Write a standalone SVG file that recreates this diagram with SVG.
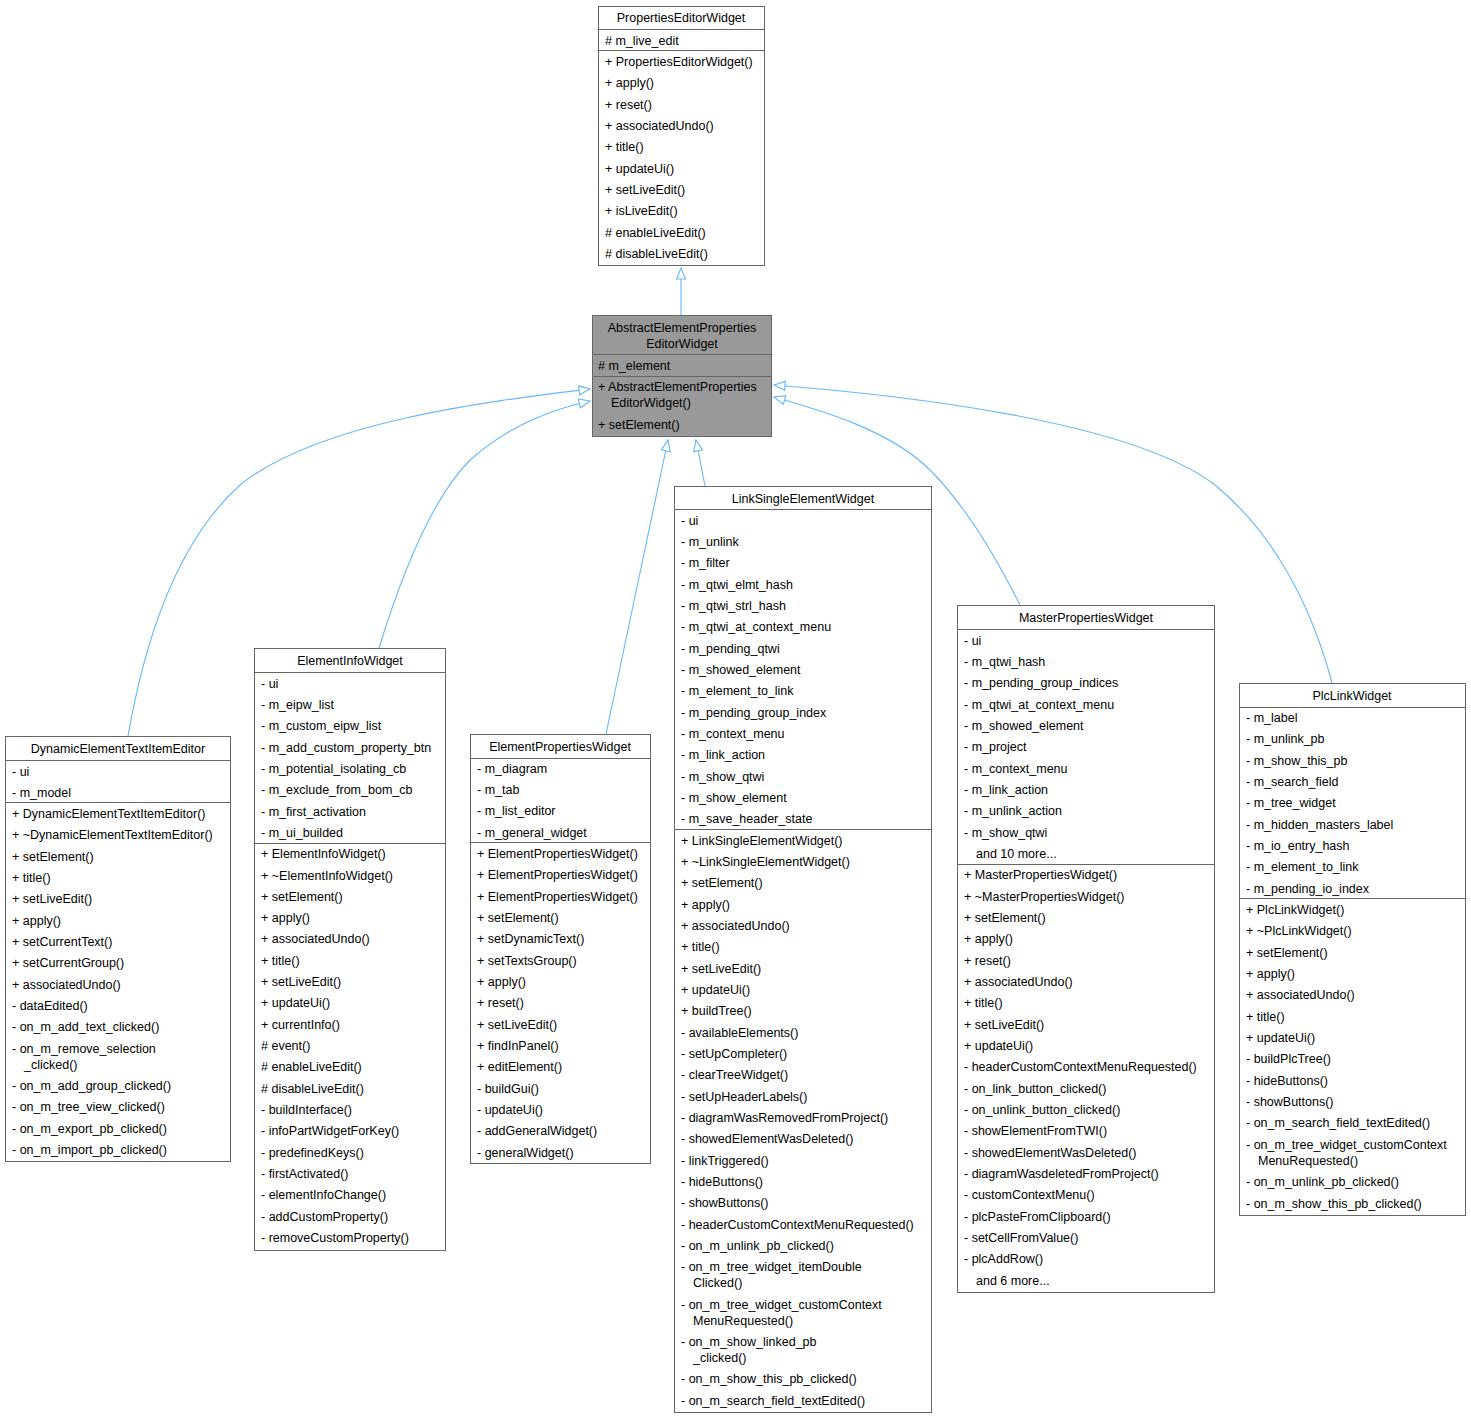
<svg xmlns="http://www.w3.org/2000/svg" width="1471" height="1419" viewBox="0 0 1471 1419">
<style>
text{font-family:"Liberation Sans",Arial,sans-serif;font-size:12.5px;fill:#000}
.c{text-anchor:middle}
rect{fill:#fff;stroke:#666;stroke-width:1}
.g rect{fill:#999}
line.d{stroke:#666;stroke-width:1}
.e path{fill:none;stroke:#63b8ff;stroke-width:1.1}
</style>
<defs>
<marker id="tri" markerWidth="14" markerHeight="12" refX="12" refY="5" orient="auto" markerUnits="userSpaceOnUse">
<path d="M1,0.5 L12,5 L1,9.5 Z" fill="#fff" stroke="#63b8ff" stroke-width="1.1"/>
</marker>
</defs>
<rect x="0" y="0" width="1471" height="1419" style="fill:#fff;stroke:none"/>
<g class="e" id="edges">
<path d="M681,315 L681,268" marker-end="url(#tri)"/>
<path d="M128,736 C150,610 190,530 240,485 C320,420 500,400 590,389" marker-end="url(#tri)"/>
<path d="M379,648 C400,580 430,500 470,460 C510,425 550,410 590,401" marker-end="url(#tri)"/>
<path d="M606,734 L668,440" marker-end="url(#tri)"/>
<path d="M705,486 L696,440" marker-end="url(#tri)"/>
<path d="M1020,605 C990,545 960,500 930,470 C890,430 820,410 774,397" marker-end="url(#tri)"/>
<path d="M1332,683 C1310,600 1270,530 1215,485 C1130,420 900,395 774,385" marker-end="url(#tri)"/>
</g>
<g id="PropertiesEditorWidget">
<rect x="598.5" y="6.5" width="166" height="259"/>
<line class="d" x1="598.5" y1="29.5" x2="764.5" y2="29.5"/>
<line class="d" x1="598.5" y1="50.5" x2="764.5" y2="50.5"/>
<text class="c" x="681" y="22">PropertiesEditorWidget</text>
<text x="605" y="45"># m_live_edit</text>
<text x="605" y="66">+  PropertiesEditorWidget()</text>
<text x="605" y="87">+  apply()</text>
<text x="605" y="109">+  reset()</text>
<text x="605" y="130">+  associatedUndo()</text>
<text x="605" y="151">+  title()</text>
<text x="605" y="173">+  updateUi()</text>
<text x="605" y="194">+  setLiveEdit()</text>
<text x="605" y="215">+  isLiveEdit()</text>
<text x="605" y="237"># enableLiveEdit()</text>
<text x="605" y="258"># disableLiveEdit()</text>
</g>
<g id="AbstractElementPropertiesEditorWidget" class="g">
<rect x="592.5" y="315.5" width="179" height="121"/>
<line class="d" x1="592.5" y1="354.5" x2="771.5" y2="354.5"/>
<line class="d" x1="592.5" y1="376.5" x2="771.5" y2="376.5"/>
<text class="c" x="682" y="332">AbstractElementProperties</text>
<text class="c" x="682" y="348">EditorWidget</text>
<text x="598" y="370"># m_element</text>
<text x="598" y="391">+ AbstractElementProperties</text>
<text x="611" y="407">EditorWidget()</text>
<text x="598" y="429">+ setElement()</text>
</g>
<g id="DynamicElementTextItemEditor">
<rect x="5.5" y="736.5" width="225" height="425"/>
<line class="d" x1="5.5" y1="760.5" x2="230.5" y2="760.5"/>
<line class="d" x1="5.5" y1="802.5" x2="230.5" y2="802.5"/>
<text class="c" x="118" y="753">DynamicElementTextItemEditor</text>
<text x="12" y="776">-  ui</text>
<text x="12" y="797">-  m_model</text>
<text x="12" y="818">+ DynamicElementTextItemEditor()</text>
<text x="12" y="839">+ ~DynamicElementTextItemEditor()</text>
<text x="12" y="861">+  setElement()</text>
<text x="12" y="882">+  title()</text>
<text x="12" y="903">+  setLiveEdit()</text>
<text x="12" y="925">+  apply()</text>
<text x="12" y="946">+  setCurrentText()</text>
<text x="12" y="967">+  setCurrentGroup()</text>
<text x="12" y="989">+  associatedUndo()</text>
<text x="12" y="1010">-  dataEdited()</text>
<text x="12" y="1031">-  on_m_add_text_clicked()</text>
<text x="12" y="1053">-  on_m_remove_selection</text>
<text x="24" y="1069">_clicked()</text>
<text x="12" y="1090">-  on_m_add_group_clicked()</text>
<text x="12" y="1111">-  on_m_tree_view_clicked()</text>
<text x="12" y="1133">-  on_m_export_pb_clicked()</text>
<text x="12" y="1154">-  on_m_import_pb_clicked()</text>
</g>
<g id="ElementInfoWidget">
<rect x="254.5" y="648.5" width="191" height="602"/>
<line class="d" x1="254.5" y1="672.5" x2="445.5" y2="672.5"/>
<line class="d" x1="254.5" y1="843.5" x2="445.5" y2="843.5"/>
<text class="c" x="350" y="665">ElementInfoWidget</text>
<text x="261" y="688">-  ui</text>
<text x="261" y="709">-  m_eipw_list</text>
<text x="261" y="730">-  m_custom_eipw_list</text>
<text x="261" y="752">-  m_add_custom_property_btn</text>
<text x="261" y="773">-  m_potential_isolating_cb</text>
<text x="261" y="794">-  m_exclude_from_bom_cb</text>
<text x="261" y="816">-  m_first_activation</text>
<text x="261" y="837">-  m_ui_builded</text>
<text x="261" y="858">+  ElementInfoWidget()</text>
<text x="261" y="880">+  ~ElementInfoWidget()</text>
<text x="261" y="901">+  setElement()</text>
<text x="261" y="922">+  apply()</text>
<text x="261" y="943">+  associatedUndo()</text>
<text x="261" y="965">+  title()</text>
<text x="261" y="986">+  setLiveEdit()</text>
<text x="261" y="1007">+  updateUi()</text>
<text x="261" y="1029">+  currentInfo()</text>
<text x="261" y="1050"># event()</text>
<text x="261" y="1071"># enableLiveEdit()</text>
<text x="261" y="1093"># disableLiveEdit()</text>
<text x="261" y="1114">-  buildInterface()</text>
<text x="261" y="1135">-  infoPartWidgetForKey()</text>
<text x="261" y="1157">-  predefinedKeys()</text>
<text x="261" y="1178">-  firstActivated()</text>
<text x="261" y="1199">-  elementInfoChange()</text>
<text x="261" y="1221">-  addCustomProperty()</text>
<text x="261" y="1242">-  removeCustomProperty()</text>
</g>
<g id="ElementPropertiesWidget">
<rect x="470.5" y="734.5" width="180" height="429"/>
<line class="d" x1="470.5" y1="758.5" x2="650.5" y2="758.5"/>
<line class="d" x1="470.5" y1="842.5" x2="650.5" y2="842.5"/>
<text class="c" x="560" y="751">ElementPropertiesWidget</text>
<text x="477" y="773">-  m_diagram</text>
<text x="477" y="794">-  m_tab</text>
<text x="477" y="815">-  m_list_editor</text>
<text x="477" y="837">-  m_general_widget</text>
<text x="477" y="858">+  ElementPropertiesWidget()</text>
<text x="477" y="879">+  ElementPropertiesWidget()</text>
<text x="477" y="901">+  ElementPropertiesWidget()</text>
<text x="477" y="922">+  setElement()</text>
<text x="477" y="943">+  setDynamicText()</text>
<text x="477" y="965">+  setTextsGroup()</text>
<text x="477" y="986">+  apply()</text>
<text x="477" y="1007">+  reset()</text>
<text x="477" y="1029">+  setLiveEdit()</text>
<text x="477" y="1050">+  findInPanel()</text>
<text x="477" y="1071">+  editElement()</text>
<text x="477" y="1093">-  buildGui()</text>
<text x="477" y="1114">-  updateUi()</text>
<text x="477" y="1135">-  addGeneralWidget()</text>
<text x="477" y="1157">-  generalWidget()</text>
</g>
<g id="LinkSingleElementWidget">
<rect x="674.5" y="486.5" width="257" height="926"/>
<line class="d" x1="674.5" y1="509.5" x2="931.5" y2="509.5"/>
<line class="d" x1="674.5" y1="829.5" x2="931.5" y2="829.5"/>
<text class="c" x="803" y="503">LinkSingleElementWidget</text>
<text x="681" y="525">-  ui</text>
<text x="681" y="546">-  m_unlink</text>
<text x="681" y="567">-  m_filter</text>
<text x="681" y="589">-  m_qtwi_elmt_hash</text>
<text x="681" y="610">-  m_qtwi_strl_hash</text>
<text x="681" y="631">-  m_qtwi_at_context_menu</text>
<text x="681" y="653">-  m_pending_qtwi</text>
<text x="681" y="674">-  m_showed_element</text>
<text x="681" y="695">-  m_element_to_link</text>
<text x="681" y="717">-  m_pending_group_index</text>
<text x="681" y="738">-  m_context_menu</text>
<text x="681" y="759">-  m_link_action</text>
<text x="681" y="781">-  m_show_qtwi</text>
<text x="681" y="802">-  m_show_element</text>
<text x="681" y="823">-  m_save_header_state</text>
<text x="681" y="845">+  LinkSingleElementWidget()</text>
<text x="681" y="866">+  ~LinkSingleElementWidget()</text>
<text x="681" y="887">+  setElement()</text>
<text x="681" y="909">+  apply()</text>
<text x="681" y="930">+  associatedUndo()</text>
<text x="681" y="951">+  title()</text>
<text x="681" y="973">+  setLiveEdit()</text>
<text x="681" y="994">+  updateUi()</text>
<text x="681" y="1015">+  buildTree()</text>
<text x="681" y="1037">-  availableElements()</text>
<text x="681" y="1058">-  setUpCompleter()</text>
<text x="681" y="1079">-  clearTreeWidget()</text>
<text x="681" y="1101">-  setUpHeaderLabels()</text>
<text x="681" y="1122">-  diagramWasRemovedFromProject()</text>
<text x="681" y="1143">-  showedElementWasDeleted()</text>
<text x="681" y="1165">-  linkTriggered()</text>
<text x="681" y="1186">-  hideButtons()</text>
<text x="681" y="1207">-  showButtons()</text>
<text x="681" y="1229">-  headerCustomContextMenuRequested()</text>
<text x="681" y="1250">-  on_m_unlink_pb_clicked()</text>
<text x="681" y="1271">-  on_m_tree_widget_itemDouble</text>
<text x="693" y="1287">Clicked()</text>
<text x="681" y="1309">-  on_m_tree_widget_customContext</text>
<text x="693" y="1325">MenuRequested()</text>
<text x="681" y="1346">-  on_m_show_linked_pb</text>
<text x="693" y="1362">_clicked()</text>
<text x="681" y="1383">-  on_m_show_this_pb_clicked()</text>
<text x="681" y="1405">-  on_m_search_field_textEdited()</text>
</g>
<g id="MasterPropertiesWidget">
<rect x="957.5" y="605.5" width="257" height="687"/>
<line class="d" x1="957.5" y1="629.5" x2="1214.5" y2="629.5"/>
<line class="d" x1="957.5" y1="864.5" x2="1214.5" y2="864.5"/>
<text class="c" x="1086" y="622">MasterPropertiesWidget</text>
<text x="964" y="645">-  ui</text>
<text x="964" y="666">-  m_qtwi_hash</text>
<text x="964" y="687">-  m_pending_group_indices</text>
<text x="964" y="709">-  m_qtwi_at_context_menu</text>
<text x="964" y="730">-  m_showed_element</text>
<text x="964" y="751">-  m_project</text>
<text x="964" y="773">-  m_context_menu</text>
<text x="964" y="794">-  m_link_action</text>
<text x="964" y="815">-  m_unlink_action</text>
<text x="964" y="837">-  m_show_qtwi</text>
<text x="976" y="858">and 10 more...</text>
<text x="964" y="879">+  MasterPropertiesWidget()</text>
<text x="964" y="901">+  ~MasterPropertiesWidget()</text>
<text x="964" y="922">+  setElement()</text>
<text x="964" y="943">+  apply()</text>
<text x="964" y="965">+  reset()</text>
<text x="964" y="986">+  associatedUndo()</text>
<text x="964" y="1007">+  title()</text>
<text x="964" y="1029">+  setLiveEdit()</text>
<text x="964" y="1050">+  updateUi()</text>
<text x="964" y="1071">-  headerCustomContextMenuRequested()</text>
<text x="964" y="1093">-  on_link_button_clicked()</text>
<text x="964" y="1114">-  on_unlink_button_clicked()</text>
<text x="964" y="1135">-  showElementFromTWI()</text>
<text x="964" y="1157">-  showedElementWasDeleted()</text>
<text x="964" y="1178">-  diagramWasdeletedFromProject()</text>
<text x="964" y="1199">-  customContextMenu()</text>
<text x="964" y="1221">-  plcPasteFromClipboard()</text>
<text x="964" y="1242">-  setCellFromValue()</text>
<text x="964" y="1263">-  plcAddRow()</text>
<text x="976" y="1285">and 6 more...</text>
</g>
<g id="PlcLinkWidget">
<rect x="1239.5" y="683.5" width="226" height="532"/>
<line class="d" x1="1239.5" y1="707.5" x2="1465.5" y2="707.5"/>
<line class="d" x1="1239.5" y1="898.5" x2="1465.5" y2="898.5"/>
<text class="c" x="1352" y="700">PlcLinkWidget</text>
<text x="1246" y="722">-  m_label</text>
<text x="1246" y="743">-  m_unlink_pb</text>
<text x="1246" y="765">-  m_show_this_pb</text>
<text x="1246" y="786">-  m_search_field</text>
<text x="1246" y="807">-  m_tree_widget</text>
<text x="1246" y="829">-  m_hidden_masters_label</text>
<text x="1246" y="850">-  m_io_entry_hash</text>
<text x="1246" y="871">-  m_element_to_link</text>
<text x="1246" y="893">-  m_pending_io_index</text>
<text x="1246" y="914">+  PlcLinkWidget()</text>
<text x="1246" y="935">+  ~PlcLinkWidget()</text>
<text x="1246" y="957">+  setElement()</text>
<text x="1246" y="978">+  apply()</text>
<text x="1246" y="999">+  associatedUndo()</text>
<text x="1246" y="1021">+  title()</text>
<text x="1246" y="1042">+  updateUi()</text>
<text x="1246" y="1063">-  buildPlcTree()</text>
<text x="1246" y="1085">-  hideButtons()</text>
<text x="1246" y="1106">-  showButtons()</text>
<text x="1246" y="1127">-  on_m_search_field_textEdited()</text>
<text x="1246" y="1149">-  on_m_tree_widget_customContext</text>
<text x="1258" y="1165">MenuRequested()</text>
<text x="1246" y="1186">-  on_m_unlink_pb_clicked()</text>
<text x="1246" y="1208">-  on_m_show_this_pb_clicked()</text>
</g>
</svg>
